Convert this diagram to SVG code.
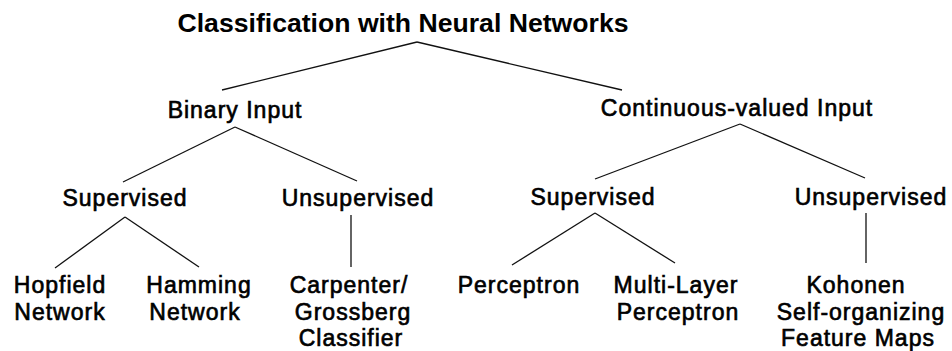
<svg xmlns="http://www.w3.org/2000/svg" width="952" height="351" viewBox="0 0 952 351">
<style>
text{font-family:"Liberation Sans",Arial,sans-serif;fill:#000;text-anchor:middle}
.t{font-size:26.5px;font-weight:bold}
.n{font-size:23px;stroke:#000;stroke-width:0.65;letter-spacing:1px}
.c line{stroke:#111;stroke-width:1.3}
</style>
<rect width="952" height="351" fill="#fff"/>
<g id="title"><text class="t" x="403" y="32" textLength="451" lengthAdjust="spacingAndGlyphs">Classification with Neural Networks</text></g>
<g id="binary"><text class="n" x="235" y="118">Binary Input</text></g>
<g id="continuous"><text class="n" x="737" y="116">Continuous-valued Input</text></g>
<g id="sup1"><text class="n" x="125" y="206">Supervised</text></g>
<g id="unsup1"><text class="n" x="358" y="206">Unsupervised</text></g>
<g id="sup2"><text class="n" x="593" y="205">Supervised</text></g>
<g id="unsup2"><text class="n" x="871" y="205">Unsupervised</text></g>
<g id="hopfield"><text class="n" x="60" y="293">Hopfield</text><text class="n" x="60" y="320">Network</text></g>
<g id="hamming"><text class="n" x="199" y="293">Hamming</text><text class="n" x="195" y="320">Network</text></g>
<g id="carpenter"><text class="n" x="349" y="293">Carpenter/</text><text class="n" x="353" y="320">Grossberg</text><text class="n" x="351" y="346">Classifier</text></g>
<g id="perceptron"><text class="n" x="519" y="293">Perceptron</text></g>
<g id="mlp"><text class="n" x="676" y="293">Multi-Layer</text><text class="n" x="678" y="320">Perceptron</text></g>
<g id="kohonen"><text class="n" x="856" y="293">Kohonen</text><text class="n" x="861" y="320">Self-organizing</text><text class="n" x="858" y="346">Feature Maps</text></g>
<g id="connectors" class="c">
<line x1="417" y1="42" x2="222" y2="90"/>
<line x1="417" y1="42" x2="622" y2="90"/>
<line x1="235" y1="127" x2="123" y2="182"/>
<line x1="235" y1="127" x2="357" y2="181"/>
<line x1="740" y1="124" x2="595" y2="179"/>
<line x1="740" y1="124" x2="865" y2="178"/>
<line x1="125" y1="217" x2="55" y2="268"/>
<line x1="125" y1="217" x2="199" y2="267"/>
<line x1="351" y1="215" x2="351" y2="267"/>
<line x1="595" y1="213" x2="512" y2="265"/>
<line x1="595" y1="213" x2="675" y2="263"/>
<line x1="866" y1="213" x2="866" y2="263"/>
</g>
</svg>
